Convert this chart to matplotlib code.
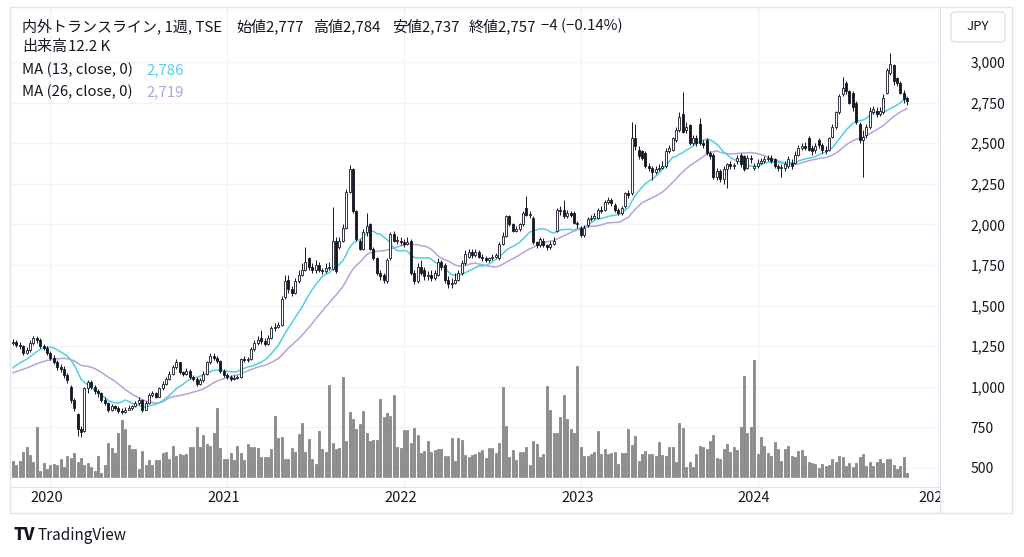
import numpy as np
import pandas as pd
import matplotlib
matplotlib.use('Agg')
import matplotlib.pyplot as plt
from matplotlib.patches import Rectangle, FancyBboxPatch
from matplotlib.transforms import Bbox, TransformedBbox

# weekly bars, first visible week starts 2019-10-21
start_week = '2019-10-21'

# closes before the first visible week (only feed the moving averages)
warmup_closes = [1040, 1050, 1060, 1045, 1030, 1050, 1070, 1060, 1050, 1065, 1070, 1060, 1055,
                 1060, 1050, 1060, 1070, 1080, 1075, 1085, 1090, 1080, 1100, 1150, 1190, 1210]

opens = [
    1270, 1275, 1260, 1250, 1210, 1225, 1270, 1300, 1290, 1250,
    1240, 1210, 1180, 1150, 1120, 1110, 1070, 1000, 920, 830,
    740, 730, 990, 1030, 1000, 975, 960, 920, 900, 860,
    880, 870, 850, 845, 860, 870, 880, 900, 920, 860,
    900, 950, 960, 940, 990, 1020, 1050, 1080, 1120, 1150,
    1090, 1080, 1100, 1060, 1050, 1020, 1040, 1080, 1150, 1190,
    1180, 1160, 1100, 1070, 1060, 1045, 1055, 1060, 1170, 1165,
    1170, 1230, 1270, 1300, 1280, 1265, 1300, 1360, 1370, 1380,
    1550, 1660, 1600, 1580, 1650, 1690, 1720, 1790, 1740, 1720,
    1750, 1720, 1710, 1730, 1725, 1900, 1860, 1900, 1980, 2200,
    2340, 2080, 1900, 1850, 1950, 2000, 1850, 1790, 1700, 1690,
    1650, 1790, 1940, 1900, 1900, 1890, 1880, 1900, 1700, 1650,
    1740, 1720, 1680, 1690, 1670, 1690, 1770, 1750, 1660, 1630,
    1640, 1660, 1700, 1760, 1800, 1830, 1810, 1830, 1800, 1790,
    1780, 1790, 1800, 1790, 1880, 1930, 2050, 2000, 1960, 1970,
    2000, 2100, 2060, 2040, 1890, 1870, 1900, 1870, 1860, 1880,
    1960, 2090, 2090, 2050, 2070, 2070, 2010, 1980, 1935, 1995,
    2030, 2040, 2040, 2090, 2090, 2140, 2150, 2120, 2090, 2070,
    2110, 2190, 2190, 2530, 2460, 2450, 2440, 2360, 2350, 2320,
    2340, 2350, 2360, 2450, 2460, 2520, 2580, 2680, 2580, 2610,
    2500, 2530, 2620, 2500, 2520, 2440, 2430, 2290, 2330, 2280,
    2340, 2370, 2360, 2390, 2430, 2420, 2350, 2410, 2350, 2360,
    2380, 2390, 2400, 2410, 2400, 2360, 2350, 2350, 2360, 2380,
    2380, 2430, 2470, 2480, 2530, 2470, 2460, 2520, 2490, 2450,
    2460, 2540, 2600, 2690, 2800, 2870, 2820, 2810, 2750, 2620,
    2520, 2550, 2600, 2690, 2700, 2680, 2690, 2810, 2930, 2980,
    2900, 2870, 2810, 2777]

highs = [
    1295, 1290, 1275, 1260, 1245, 1290, 1315, 1310, 1300, 1265,
    1250, 1220, 1195, 1165, 1140, 1125, 1085, 1010, 930, 840,
    760, 1000, 1040, 1040, 1010, 985, 970, 935, 905, 895,
    890, 880, 870, 875, 885, 890, 915, 935, 925, 915,
    960, 975, 970, 1000, 1035, 1060, 1095, 1135, 1170, 1155,
    1100, 1115, 1110, 1070, 1060, 1055, 1095, 1160, 1205, 1210,
    1190, 1165, 1110, 1085, 1070, 1070, 1075, 1180, 1190, 1185,
    1245, 1290, 1310, 1350, 1300, 1320, 1375, 1390, 1400, 1560,
    1690, 1690, 1620, 1670, 1720, 1760, 1862, 1800, 1760, 1780,
    1770, 1730, 1760, 1770, 2107, 1920, 1920, 2000, 2220, 2366,
    2350, 2090, 1910, 1970, 2070, 2010, 1860, 1800, 1720, 1700,
    1790, 1955, 1960, 1930, 1920, 1910, 1920, 1910, 1720, 1760,
    1780, 1740, 1710, 1720, 1720, 1790, 1780, 1760, 1680, 1670,
    1700, 1720, 1780, 1840, 1850, 1850, 1850, 1845, 1815, 1805,
    1800, 1815, 1825, 1890, 1950, 2060, 2060, 2010, 1990, 2010,
    2085, 2175, 2080, 2050, 1900, 1925, 1915, 1880, 1895, 1920,
    2100, 2110, 2150, 2090, 2085, 2080, 2020, 1990, 1995, 2045,
    2055, 2070, 2100, 2110, 2150, 2170, 2165, 2130, 2100, 2115,
    2200, 2210, 2630, 2620, 2480, 2460, 2450, 2380, 2360, 2360,
    2370, 2390, 2470, 2490, 2540, 2600, 2690, 2815, 2630, 2620,
    2550, 2550, 2655, 2520, 2530, 2450, 2440, 2350, 2340, 2360,
    2380, 2390, 2375, 2430, 2440, 2430, 2430, 2430, 2380, 2400,
    2410, 2420, 2430, 2430, 2410, 2370, 2370, 2390, 2420, 2400,
    2450, 2490, 2500, 2510, 2545, 2490, 2500, 2530, 2500, 2480,
    2540, 2620, 2700, 2800, 2907, 2880, 2830, 2820, 2760, 2630,
    2580, 2620, 2720, 2730, 2720, 2720, 2800, 2960, 3055, 2990,
    2910, 2880, 2830, 2784]

lows = [
    1255, 1245, 1235, 1195, 1200, 1215, 1260, 1270, 1240, 1225,
    1195, 1165, 1140, 1105, 1090, 1055, 1025, 900, 850, 700,
    690, 720, 960, 985, 955, 940, 905, 890, 845, 850,
    855, 840, 835, 840, 855, 860, 875, 890, 845, 855,
    895, 940, 930, 935, 980, 1010, 1040, 1070, 1110, 1080,
    1065, 1070, 1050, 1035, 1005, 1010, 1030, 1075, 1140, 1165,
    1145, 1085, 1060, 1045, 1035, 1040, 1045, 1055, 1150, 1155,
    1165, 1220, 1260, 1265, 1250, 1255, 1295, 1345, 1360, 1375,
    1540, 1580, 1560, 1570, 1640, 1680, 1710, 1720, 1700, 1700,
    1705, 1695, 1700, 1720, 1720, 1700, 1850, 1890, 1970, 2190,
    2070, 1895, 1840, 1840, 1930, 1840, 1780, 1690, 1660, 1640,
    1640, 1780, 1890, 1880, 1870, 1860, 1870, 1690, 1630, 1640,
    1690, 1660, 1660, 1650, 1655, 1680, 1720, 1640, 1610, 1610,
    1630, 1650, 1690, 1750, 1790, 1795, 1800, 1790, 1775, 1770,
    1770, 1780, 1790, 1780, 1870, 1920, 1990, 1950, 1950, 1960,
    1990, 2050, 2040, 1880, 1855, 1860, 1860, 1840, 1850, 1870,
    1950, 2060, 2040, 2040, 2045, 2000, 1980, 1920, 1925, 1985,
    2020, 2030, 2030, 2070, 2080, 2125, 2115, 2075, 2055, 2060,
    2100, 2165, 2180, 2460, 2400, 2395, 2345, 2330, 2275, 2310,
    2330, 2340, 2350, 2440, 2450, 2510, 2570, 2560, 2560, 2490,
    2490, 2480, 2490, 2470, 2430, 2400, 2280, 2270, 2260, 2250,
    2225, 2340, 2340, 2370, 2355, 2330, 2340, 2380, 2335, 2345,
    2370, 2375, 2390, 2375, 2345, 2330, 2290, 2330, 2350, 2340,
    2370, 2420, 2460, 2455, 2450, 2430, 2440, 2470, 2440, 2435,
    2450, 2530, 2590, 2680, 2790, 2800, 2740, 2700, 2620, 2500,
    2290, 2530, 2590, 2680, 2660, 2670, 2680, 2800, 2920, 2860,
    2850, 2800, 2750, 2737]

closes = [
    1275, 1260, 1250, 1210, 1225, 1270, 1300, 1290, 1250, 1240,
    1210, 1180, 1150, 1120, 1110, 1070, 1040, 920, 870, 740,
    720, 990, 1030, 1000, 975, 960, 920, 900, 860, 880,
    870, 850, 845, 860, 870, 880, 900, 920, 860, 900,
    950, 960, 940, 990, 1020, 1050, 1080, 1120, 1150, 1090,
    1080, 1100, 1060, 1050, 1020, 1040, 1080, 1150, 1190, 1180,
    1160, 1100, 1070, 1060, 1045, 1055, 1060, 1170, 1165, 1170,
    1230, 1270, 1290, 1280, 1265, 1300, 1360, 1370, 1380, 1540,
    1650, 1600, 1580, 1650, 1690, 1720, 1770, 1740, 1720, 1750,
    1720, 1710, 1730, 1740, 1900, 1710, 1900, 1980, 2200, 2340,
    2080, 1910, 1850, 1950, 1990, 1850, 1790, 1700, 1680, 1660,
    1780, 1940, 1900, 1900, 1890, 1880, 1890, 1700, 1650, 1740,
    1700, 1680, 1690, 1670, 1700, 1770, 1740, 1660, 1630, 1640,
    1660, 1700, 1760, 1820, 1830, 1810, 1830, 1800, 1790, 1780,
    1790, 1800, 1810, 1880, 1930, 2050, 2000, 1960, 1970, 2000,
    2070, 2060, 2060, 1890, 1870, 1910, 1870, 1860, 1880, 1900,
    2090, 2080, 2050, 2070, 2060, 2010, 2000, 1935, 1980, 2030,
    2040, 2050, 2090, 2080, 2140, 2150, 2130, 2090, 2070, 2100,
    2190, 2180, 2530, 2480, 2420, 2410, 2360, 2350, 2320, 2340,
    2350, 2360, 2450, 2470, 2530, 2580, 2660, 2570, 2600, 2500,
    2530, 2500, 2500, 2490, 2440, 2420, 2290, 2330, 2280, 2340,
    2370, 2360, 2360, 2410, 2370, 2340, 2410, 2400, 2360, 2380,
    2390, 2400, 2410, 2390, 2360, 2350, 2350, 2370, 2400, 2360,
    2430, 2470, 2480, 2470, 2460, 2450, 2480, 2490, 2460, 2460,
    2530, 2600, 2690, 2790, 2840, 2820, 2750, 2720, 2630, 2520,
    2540, 2600, 2700, 2710, 2680, 2700, 2780, 2950, 2990, 2880,
    2870, 2810, 2770, 2757]

# weekly volume, thousands of shares
volumes = [
    47, 35, 47, 75, 88, 65, 45, 148, 18, 42,
    23, 35, 37, 35, 52, 28, 63, 55, 70, 43,
    57, 35, 40, 28, 18, 62, 10, 35, 100, 85,
    70, 132, 170, 142, 95, 82, 82, 22, 78, 35,
    50, 35, 50, 50, 70, 75, 52, 92, 63, 68,
    65, 68, 90, 90, 148, 90, 125, 98, 93, 132,
    205, 85, 53, 53, 72, 50, 92, 70, 50, 97,
    90, 88, 85, 58, 58, 58, 82, 183, 117, 120,
    52, 52, 85, 75, 128, 160, 75, 112, 52, 37,
    137, 83, 75, 275, 102, 83, 85, 298, 108, 195,
    172, 142, 158, 198, 130, 108, 110, 110, 232, 178,
    190, 182, 245, 90, 85, 140, 140, 102, 147, 125,
    70, 77, 107, 75, 80, 82, 82, 62, 62, 115,
    48, 115, 110, 65, 60,
    65, 67, 75, 80, 57, 85, 87, 70, 102, 270,
    153, 60, 80, 50, 75, 75, 90, 35, 108, 97,
    60, 67, 272, 199, 132, 132, 179, 244, 173, 142,
    130, 333, 88, 62, 62, 68, 73, 137, 67, 82,
    67, 70, 75, 37, 70, 70, 143, 95, 123, 47,
    67, 78, 67, 67, 63, 103, 65, 62, 90, 88,
    45, 162, 145, 30, 45, 30, 67, 92, 88, 83,
    107, 125, 57, 52, 83, 98, 75, 88, 80, 148,
    302, 130, 148, 350, 67, 120, 92, 70, 63, 103,
    82, 47, 82, 92, 62, 60, 77, 80, 62, 45,
    40, 37, 27, 37, 32, 35, 53, 43, 63, 58,
    32, 40, 28, 42, 58, 68, 33, 43, 33, 45,
    53, 40, 53, 52, 35, 23, 32, 60, 12.2]

price_ticks = [500, 750, 1000, 1250, 1500, 1750, 2000, 2250, 2500, 2750, 3000]
years = [2020, 2021, 2022, 2023, 2024, 2025]

TEXT = '#131722'
LINE = '#e0e3eb'
GRID = '#f0f3fa'
MA13_C = '#52cfe3'
MA26_C = '#b6a2dd'

W, H = 1024, 557


def fx(x):
    return x / W


def fy(y):
    return 1 - y / H


plt.rcParams['font.family'] = ['Noto Sans CJK JP', 'DejaVu Sans']

o = np.array(opens, float)
h = np.array(highs, float)
l = np.array(lows, float)
c = np.array(closes, float)
v = np.array(volumes, float)
idx = np.arange(len(c))

allc = pd.Series(warmup_closes + closes, dtype=float)
ma13 = allc.rolling(13).mean().values[len(warmup_closes):]
ma26 = allc.rolling(26).mean().values[len(warmup_closes):]

t0 = pd.Timestamp(start_week)
year_idx = [int(np.ceil((pd.Timestamp(f'{y}-01-01') - t0).days / 7)) for y in years]

fig = plt.figure(figsize=(W / 100, H / 100), dpi=100)
fig.patch.set_facecolor('white')

pos = [fx(12), fy(487), fx(940) - fx(12), fy(8) - fy(487)]
axv = fig.add_axes(pos)
ax = fig.add_axes(pos, sharex=axv)
ax.patch.set_visible(False)

# volume
axv.bar(idx, v, width=0.62, color='#8c8c8c', edgecolor='#6a6a6a', linewidth=0.4)
axv.set_ylim(-31, 1406)
axv.set_yticks([])
for s in axv.spines.values():
    s.set_visible(False)
axv.tick_params(axis='x', length=0, labelbottom=False)
axv.set_xticks(year_idx)
axv.grid(axis='x', color=GRID, lw=1)
axv.set_axisbelow(True)
for p in price_ticks:
    axv.axhline((p - 383) / (3332 - 383) * 1437 - 31, color=GRID, lw=1, zorder=0)

# candles
up = c >= o
ax.vlines(idx, np.minimum(l, np.minimum(o, c)), np.maximum(h, np.maximum(o, c)),
          color=TEXT, lw=0.7, zorder=2)
body_lo = np.minimum(o, c)
body_h = np.maximum(np.abs(c - o), 4)
ax.bar(idx, body_h, bottom=body_lo, width=0.62,
       color=['white' if u else TEXT for u in up], edgecolor=TEXT, linewidth=0.6, zorder=3)

ax.plot(idx, ma26, color=MA26_C, lw=1.1, zorder=1.5)
ax.plot(idx, ma13, color=MA13_C, lw=1.1, zorder=1.6)

ax.set_xlim((12 - 13) / 3.4, (940 - 13) / 3.4)
ax.set_ylim(383, 3332)
ax.set_yticks(price_ticks)
ax.set_yticklabels([f'{p:,}' for p in price_ticks])
ax.yaxis.tick_right()
ax.tick_params(axis='y', length=0, pad=22, labelsize=10, labelcolor=TEXT)
ax.tick_params(axis='x', length=0, labelbottom=False)
for s in ('top', 'left'):
    ax.spines[s].set_visible(False)
ax.spines['right'].set_color(LINE)
ax.spines['bottom'].set_color(LINE)

# year labels, clipped at the price scale like the original
clip = TransformedBbox(Bbox([[0, 0], [fx(940), 1]]), fig.transFigure)
for yi, yr in zip(year_idx, years):
    t = ax.text(yi - 1, -0.008, str(yr), transform=ax.get_xaxis_transform(),
                ha='center', va='top', fontsize=10.5, color=TEXT)
    t.set_clip_box(clip)
    t.set_clip_on(True)

# outer frame
fig.patches.append(Rectangle((fx(10), fy(513)), fx(1012) - fx(10), fy(7) - fy(513),
                             transform=fig.transFigure, fill=False, edgecolor=LINE, lw=1))
fig.lines.append(plt.Line2D([fx(940), fx(940)], [fy(487), fy(513)],
                            transform=fig.transFigure, color=LINE, lw=1))
fig.patches.append(FancyBboxPatch((fx(951), fy(42)), fx(1005) - fx(951), fy(12) - fy(42),
                                  boxstyle='round,pad=0,rounding_size=0.006',
                                  transform=fig.transFigure, fill=False, edgecolor=LINE, lw=1))
fig.text(fx(978), fy(27), 'JPY', ha='center', va='center', fontsize=9.5, color=TEXT)

# legend header
hs = 10.8
fig.text(fx(22), fy(26), '内外トランスライン, 1週, TSE', va='center', fontsize=hs, color=TEXT)
for x, s in ((236, '始値2,777'), (313, '高値2,784'), (392, '安値2,737'),
             (469, '終値2,757'), (541, '−4 (−0.14%)')):
    fig.text(fx(x), fy(26), s, va='center', fontsize=hs, color=TEXT)
fig.text(fx(22), fy(47), '出来高', va='center', fontsize=hs, color=TEXT)
fig.text(fx(68), fy(47), '12.2 K', va='center', fontsize=hs, color=TEXT)
fig.text(fx(22), fy(70), 'MA (13, close, 0)', va='center', fontsize=hs, color=TEXT)
fig.text(fx(146), fy(70), '2,786', va='center', fontsize=hs, color=MA13_C)
fig.text(fx(22), fy(92), 'MA (26, close, 0)', va='center', fontsize=hs, color=TEXT)
fig.text(fx(146), fy(92), '2,719', va='center', fontsize=hs, color=MA26_C)

# footer logo
fig.text(fx(13), fy(535), 'TV', va='center', fontsize=12, fontweight='heavy', color=TEXT)
fig.text(fx(38), fy(535), 'TradingView', va='center', fontsize=11, color=TEXT)

fig.savefig('out.png', dpi=100, facecolor='white')
